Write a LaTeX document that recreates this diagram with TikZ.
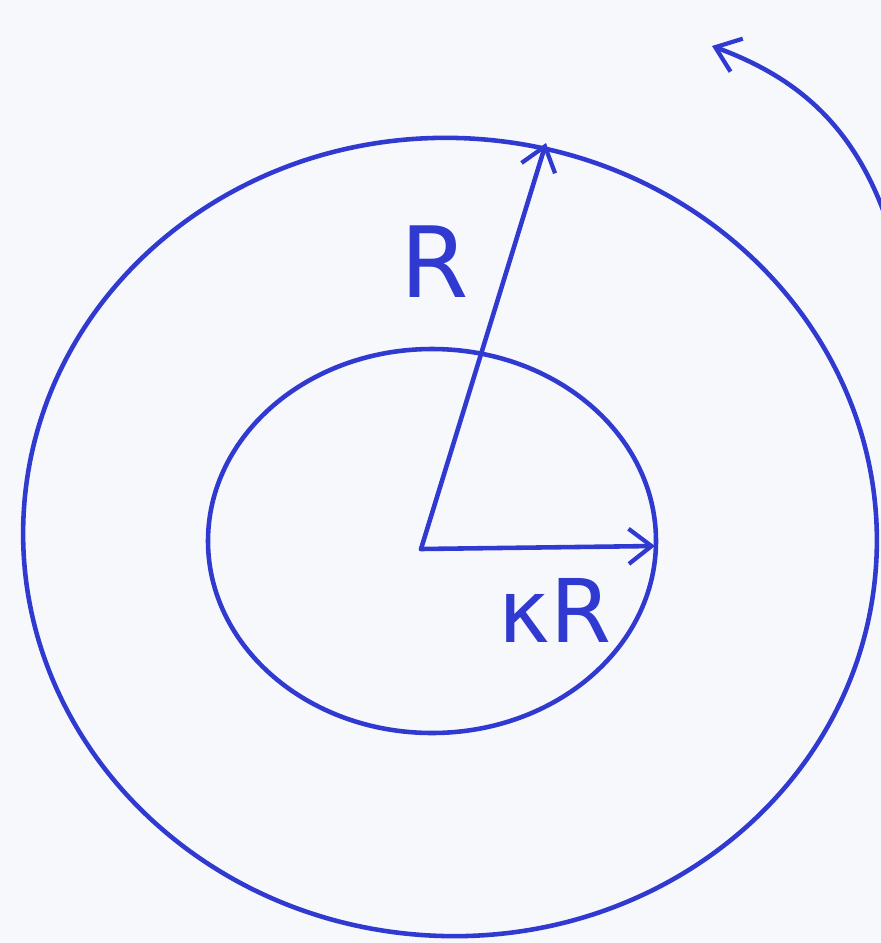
\documentclass[tikz,border=0pt]{standalone}
\usepackage{amsmath,amssymb}
\usepackage{xcolor}
\usepackage{fontspec}
\usepackage{tikz}
\usetikzlibrary{arrows.meta, positioning, calc}
\newfontfamily\handfont{DejaVu Sans}
\definecolor{inkblue}{RGB}{48, 58, 208}
\definecolor{paper}{RGB}{247, 248, 252}

\begin{document}
\begin{tikzpicture}[
    x=0.02cm, y=-0.02cm,
    ring/.style={draw=inkblue, line width=2.6pt},
    radius/.style={-{Straight Barb[length=13pt, width=20pt, line width=2.4pt]}, draw=inkblue, line width=2.6pt, line cap=round},
    lbl/.style={text=inkblue, font=\handfont\fontsize{56}{56}\selectfont, inner sep=0pt}
]
% Paper
\fill[paper] (0,0) rectangle (881,943);
\useasboundingbox (0,0) rectangle (881,943);
\clip (0,0) rectangle (881,943);

% Circles
\draw[ring, rotate around={-4:(450,537)}] (450,537) ellipse (427 and 399);
\draw[ring] (432,541) ellipse (224 and 192);

% Centre and arrow ends
\coordinate (centre) at (421,549);
\coordinate (outertip) at (546,143);
\coordinate (innertip) at (655,546);

\draw[radius] (centre) -- (outertip);
\draw[radius] (centre) -- (innertip);

% Labels
\node[lbl] (bigR) at (435,262) {R};
\node[lbl, font=\handfont\fontsize{50}{50}\selectfont] (kapR) at (555,610) {κR};

% Rotation arrow
\coordinate (spinstart) at (890,230);
\coordinate (spinend) at (712,46);
\draw[radius] (spinstart) .. controls (855,120) and (790,75) .. (spinend);
\end{tikzpicture}
\end{document}
